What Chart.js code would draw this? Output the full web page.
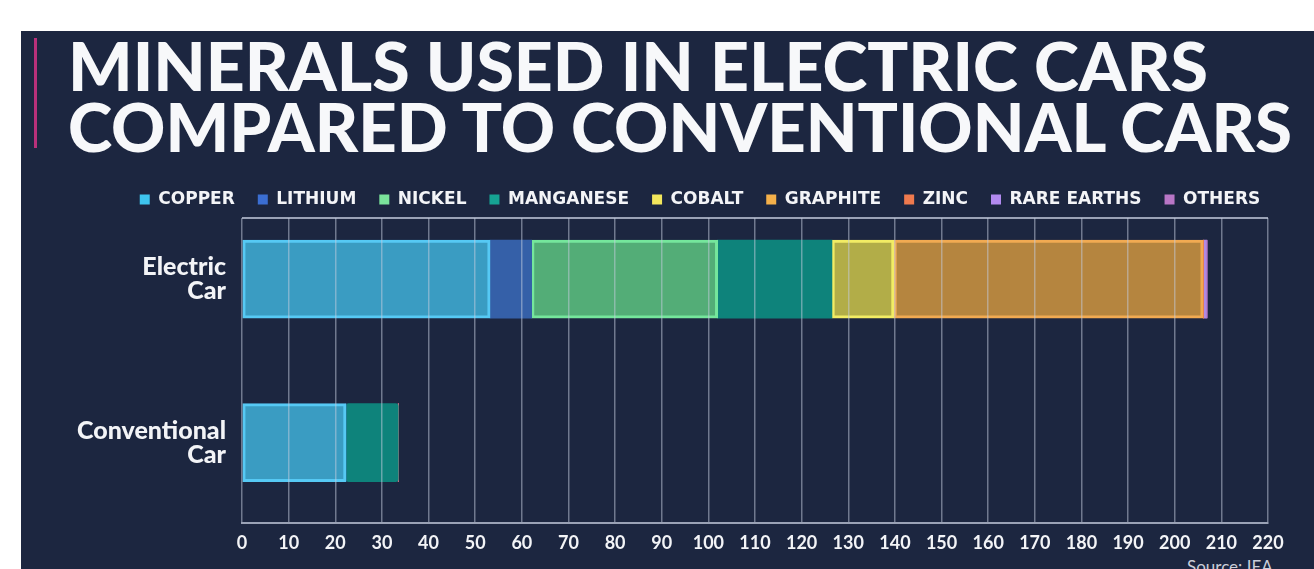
<!DOCTYPE html>
<html>
<head>
<meta charset="utf-8">
<script src="https://cdn.jsdelivr.net/npm/chart.js@4.4.1/dist/chart.umd.min.js"></script>
<style>
  html, body { margin: 0; padding: 0; background: #ffffff; }
  #stage { position: relative; width: 1314px; height: 569px; overflow: hidden; }
  #panel { position: absolute; left: 21px; top: 31px; right: 0; bottom: 0; background: #1c2640; }
  #accent { position: absolute; left: 34px; top: 38px; width: 3px; height: 110px; background: #b8307a; }
  .title { position: absolute; left: 68px; color: #f7f8fa; font-family: Lato, sans-serif; font-weight: 900;
           font-size: 66px; line-height: 1; white-space: nowrap; transform-origin: 0 0; }
  #source { position: absolute; left: 1187px; top: 556px; color: #c9cdd8; font-family: Lato, sans-serif;
            font-size: 17px; white-space: nowrap; }
  canvas { position: absolute; left: 0; top: 0; }
</style>
</head>
<body>
<div id="stage">
  <div id="panel"></div>
  <div id="accent"></div>
  <div class="title" id="t1" data-w="1140">MINERALS USED IN ELECTRIC CARS</div>
  <div class="title" id="t2" data-w="1224">COMPARED TO CONVENTIONAL CARS</div>
  <div id="source">Source: IEA</div>
  <canvas id="chart" width="1348" height="569"></canvas>
</div>
<script>
// ==========================================
// DATA
// ==========================================
const categories = [['Electric', 'Car'], ['Conventional', 'Car']];
const minerals = ['COPPER', 'LITHIUM', 'NICKEL', 'MANGANESE', 'COBALT', 'GRAPHITE', 'ZINC', 'RARE EARTHS', 'OTHERS'];
// kg per vehicle: [electric, conventional]
const copper     = [53.2, 22.3];
const lithium    = [8.9, 0];
const nickel     = [39.9, 0];
const manganese  = [24.5, 11.2];
const cobalt     = [13.3, 0];
const graphite   = [66.3, 0];
const zinc       = [0.1, 0];
const rareEarths = [0.5, 0];
const others     = [0.3, 0];
const xTicks = [0, 10, 20, 30, 40, 50, 60, 70, 80, 90, 100, 110, 120, 130, 140, 150, 160, 170, 180, 190, 200, 210, 220];

// ==========================================
// STYLES
// ==========================================
const seriesValues = [copper, lithium, nickel, manganese, cobalt, graphite, zinc, rareEarths, others];
const fillColors   = ['#3a9cc2', '#3560a8', '#53ad77', '#0e837b', '#b2ad48', '#b5853f', '#e8784e', '#b08ae4', '#b678c8'];
const edgeColors   = ['#56c9f4', '#3560a8', '#75e69c', '#11907f', '#f2ec64', '#f1aa52', '#e8784e', '#b08ae4', '#b678c8'];
const edgeWidths   = [3, 0, 3, 0, 3, 3, 0, 0, 0];
const legendColors = ['#3ec4ee', '#3b6ed2', '#7ae39b', '#16a393', '#f2e65c', '#f4b04a', '#ef7a4e', '#b28af0', '#b876c6'];

const textColor = '#f3f4f7';
const gridColor = 'rgba(196, 204, 222, 0.5)';
const axisColor = 'rgba(196, 204, 222, 0.75)';
const yMin = -0.3735;   // leaves room above the first bar like the original
const yMax = 1.494;

// fit the title lines to their widths
document.querySelectorAll('.title').forEach(el => {
  const w = el.getBoundingClientRect().width;
  el.style.transform = 'scaleX(' + (parseFloat(el.dataset.w) / w) + ')';
});
document.getElementById('t1').style.top = '33px';
document.getElementById('t2').style.top = '94px';

const datasets = minerals.map((name, i) => ({
  label: name,
  data: seriesValues[i].map((v, idx) => ({ x: v, y: idx })),
  backgroundColor: fillColors[i],
  borderColor: edgeColors[i],
  borderWidth: edgeWidths[i],
  borderSkipped: false,
  borderRadius: 3,
  barThickness: 78
}));

new Chart(document.getElementById('chart'), {
  type: 'bar',
  data: { datasets: datasets },
  options: {
    responsive: false,
    animation: false,
    indexAxis: 'y',
    layout: { padding: { top: 168, left: 52, right: 0, bottom: 6 } },
    plugins: {
      legend: {
        display: true,
        position: 'top',
        maxHeight: 52,
        labels: {
          color: textColor,
          font: { family: 'DejaVu Sans', weight: 'bold', size: 17 },
          boxWidth: 10,
          boxHeight: 10,
          padding: 23,
          generateLabels: function(chart) {
            return chart.data.datasets.map((ds, i) => ({
              text: ds.label,
              fillStyle: legendColors[i],
              strokeStyle: legendColors[i],
              lineWidth: 0,
              fontColor: textColor,
              datasetIndex: i
            }));
          }
        }
      },
      tooltip: { enabled: false }
    },
    scales: {
      x: {
        type: 'linear',
        stacked: true,
        min: 0,
        max: 220,
        afterBuildTicks: function(scale) {
          scale.ticks = xTicks.map(v => ({ value: v }));
        },
        afterFit: function(scale) { scale.paddingRight = 80; },
        grid: { color: gridColor, lineWidth: 1.5, drawTicks: false, z: 1 },
        border: { display: true, color: axisColor, width: 2, z: 2 },
        ticks: {
          color: textColor,
          font: { family: 'Lato', weight: 'bold', size: 18 },
          padding: 9,
          maxRotation: 0,
          autoSkip: false
        }
      },
      y: {
        type: 'linear',
        stacked: true,
        reverse: true,
        offset: false,
        min: yMin,
        max: yMax,
        afterBuildTicks: function(scale) {
          scale.ticks = [{ value: yMin }].concat(categories.map((c, i) => ({ value: i })));
        },
        afterFit: function(scale) { scale.width = 190; },
        grid: {
          offset: false,
          drawTicks: false,
          lineWidth: 2,
          color: ctx => (ctx.index === 0 ? axisColor : 'transparent')
        },
        border: { display: false },
        ticks: {
          color: textColor,
          font: { family: 'Lato', weight: '900', size: 25, lineHeight: 0.96 },
          padding: 16,
          autoSkip: false,
          callback: function(value) { return categories[value] || ''; }
        }
      }
    }
  }
});
</script>
</body>
</html>
